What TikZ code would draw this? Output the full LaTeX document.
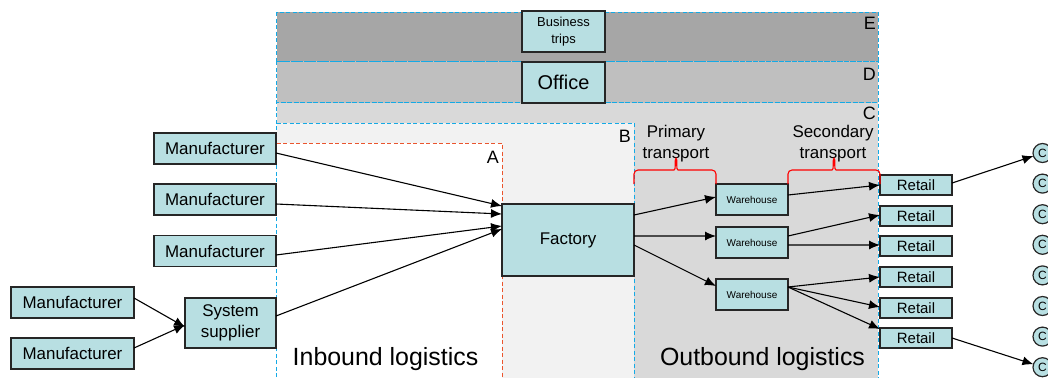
\documentclass[tikz,border=0pt]{standalone}
\usepackage{fontspec}
\setmainfont{Liberation Sans}
\usetikzlibrary{arrows.meta}

\definecolor{boxfill}{RGB}{184,223,226}
\definecolor{zoneE}{RGB}{166,166,166}
\definecolor{zoneD}{RGB}{191,191,191}
\definecolor{zoneC}{RGB}{217,217,217}
\definecolor{zoneB}{RGB}{242,242,242}
\definecolor{zoneline}{RGB}{20,170,230}
\definecolor{aline}{RGB}{235,85,45}
\definecolor{bracecol}{RGB}{255,0,0}

% font size / baseline skip
\newcommand{\fs}[2]{\fontsize{#1}{#2}\selectfont}

\begin{document}
\begin{tikzpicture}[x=1bp,y=-1bp,
  box/.style={draw=black!85, line width=1.2bp, fill=boxfill, inner sep=0pt,
              outer sep=0pt, align=center},
  circ/.style={circle, draw=black!85, line width=1.2bp, fill=boxfill,
               minimum size=19bp, inner sep=0pt, outer sep=0pt, font=\fs{12}{14}},
  zone/.style={draw=zoneline, line width=1bp, dash pattern=on 4bp off 2.5bp},
  zoneA/.style={draw=aline, line width=1bp, dash pattern=on 4bp off 2.5bp},
  zonelabel/.style={anchor=base east, inner sep=0pt, font=\fs{18}{22}},
  flow/.style={-{Latex[length=11bp,width=9bp]}, line width=1.1bp},
  bracket/.style={draw=bracecol, line width=1.1bp, rounded corners=4bp},
  caption/.style={anchor=base, inner sep=0pt, font=\fs{25}{30}}
 ]
\useasboundingbox (0,0) rectangle (1048,377);

% nested zones
\fill[zoneE] (276.5,12) rectangle (878,61);
\fill[zoneD] (276.5,61) rectangle (878,102.5);
\fill[zoneC] (276.5,102.5) rectangle (878,390);
\fill[zoneB] (276.5,123) rectangle (634,390);
\fill[white] (276.5,143) rectangle (502,390);

\draw[zone] (276.5,12) rectangle (878,61);
\draw[zone] (276.5,61) rectangle (878,102.5);
\draw[zone] (276.5,390) |- (878,102.5) -- (878,390);
\draw[zone] (276.5,123) -| (634,390);
\draw[zoneA] (276.5,143) -| (502,390);

\node[zonelabel] (lE) at (876,29) {E};
\node[zonelabel] (lD) at (876,80) {D};
\node[zonelabel] (lC) at (876,119) {C};
\node[zonelabel] (lB) at (631,142) {B};
\node[zonelabel] (lA) at (499,163) {A};

% top activities
\node[box, minimum width=83bp, minimum height=41bp, font=\fs{13}{17}]
  (trips) at (563.5,31.5) {Business\\trips};
\node[box, minimum width=83bp, minimum height=41bp, font=\fs{20}{24}]
  (office) at (563.5,82.5) {Office};

% inbound side
\node[box, minimum width=122bp, minimum height=31bp, font=\fs{17}{21}] (m1) at (215,148.5) {Manufacturer};
\node[box, minimum width=122bp, minimum height=31bp, font=\fs{17}{21}] (m2) at (215,199.5) {Manufacturer};
\node[box, minimum width=122bp, minimum height=31bp, font=\fs{17}{21}] (m3) at (215,251) {Manufacturer};
\node[box, minimum width=123bp, minimum height=31bp, font=\fs{17}{21}] (m4) at (72.5,302.5) {Manufacturer};
\node[box, minimum width=123bp, minimum height=31bp, font=\fs{17}{21}] (m5) at (72.5,353.5) {Manufacturer};
\node[box, minimum width=91bp, minimum height=50bp, font=\fs{17}{21}] (sup) at (230.5,323) {System\\supplier};

\node[box, minimum width=132bp, minimum height=72bp, font=\fs{17}{21}] (fac) at (568,240) {Factory};

% outbound side
\node[box, minimum width=72bp, minimum height=31bp, font=\fs{10}{12}] (w1) at (752,199.5) {Warehouse};
\node[box, minimum width=72bp, minimum height=31bp, font=\fs{10}{12}] (w2) at (752,242.5) {Warehouse};
\node[box, minimum width=72bp, minimum height=31bp, font=\fs{10}{12}] (w3) at (752,294.5) {Warehouse};

\node[box, minimum width=72bp, minimum height=20bp, font=\fs{15}{18}] (r1) at (916,185) {Retail};
\node[box, minimum width=72bp, minimum height=20bp, font=\fs{15}{18}] (r2) at (916,216) {Retail};
\node[box, minimum width=72bp, minimum height=20bp, font=\fs{15}{18}] (r3) at (916,246) {Retail};
\node[box, minimum width=72bp, minimum height=20bp, font=\fs{15}{18}] (r4) at (916,277) {Retail};
\node[box, minimum width=72bp, minimum height=20bp, font=\fs{15}{18}] (r5) at (916,308) {Retail};
\node[box, minimum width=72bp, minimum height=20bp, font=\fs{15}{18}] (r6) at (916,338) {Retail};

\foreach \i/\y in {1/153,2/183.6,3/214.2,4/244.8,5/275.4,6/306,7/336.6,8/367.2}
  \node[circ] (c\i) at (1042.5,\y) {C};

% transport brackets and their labels (base = last line)
\node[anchor=base, inner sep=0pt, font=\fs{17}{21}, align=center] (pt) at (676,158)
  {Primary\\transport};
\node[anchor=base, inner sep=0pt, font=\fs{17}{21}, align=center] (st) at (833,158)
  {Secondary\\transport};
\path[bracket] (634,184) |- (670,170) to[out=0,in=-100] (676,156)
  to[out=-80,in=180] (682,170) -| (716,184);
\path[bracket] (788,184) |- (828,170) to[out=0,in=-100] (834,156)
  to[out=-80,in=180] (840,170) -| (880,184);

% zone captions
\node[caption] (inb) at (385.5,365) {Inbound logistics};
\node[caption] (outb) at (762.5,365) {Outbound logistics};

% inbound flows
\draw[flow] ([yshift=-4.5bp]m1.east) -- ([yshift=34bp]fac.west);
\draw[flow] ([yshift=-4.5bp]m2.east) -- ([yshift=26bp]fac.west);
\draw[flow] ([yshift=-4bp]m3.east) -- ([yshift=14bp]fac.west);
\draw[flow] ([yshift=7bp]sup.east) -- ([yshift=11bp]fac.west);
\draw[flow] ([yshift=4.5bp]m4.east) -- ([yshift=-4bp]sup.west);
\draw[flow] ([yshift=5.5bp]m5.east) -- ([yshift=-2bp]sup.west);

% primary transport
\draw[flow] ([yshift=25bp]fac.east) -- ([yshift=2.5bp]w1.west);
\draw[flow] ([yshift=4bp]fac.east) -- ([yshift=6.5bp]w2.west);
\draw[flow] ([yshift=-5bp]fac.east) -- ([yshift=8.5bp]w3.west);

% secondary transport
\draw[flow] ([yshift=4.5bp]w1.east) -- (r1.west);
\draw[flow] ([yshift=6.5bp]w2.east) -- ([yshift=1bp]r2.west);
\draw[flow] ([yshift=-2.5bp]w2.east) -- ([yshift=1bp]r3.west);
\draw[flow] ([yshift=7.5bp]w3.east) -- (r4.west);
\draw[flow] ([yshift=7.5bp]w3.east) -- ([yshift=1bp]r5.west);
\draw[flow] ([yshift=7.5bp]w3.east) -- ([yshift=9bp]r6.west);

% delivery to customers
\draw[flow] ([yshift=2bp]r1.east) -- (c1);
\draw[flow] (r6.east) -- (c8);
\end{tikzpicture}
\end{document}
